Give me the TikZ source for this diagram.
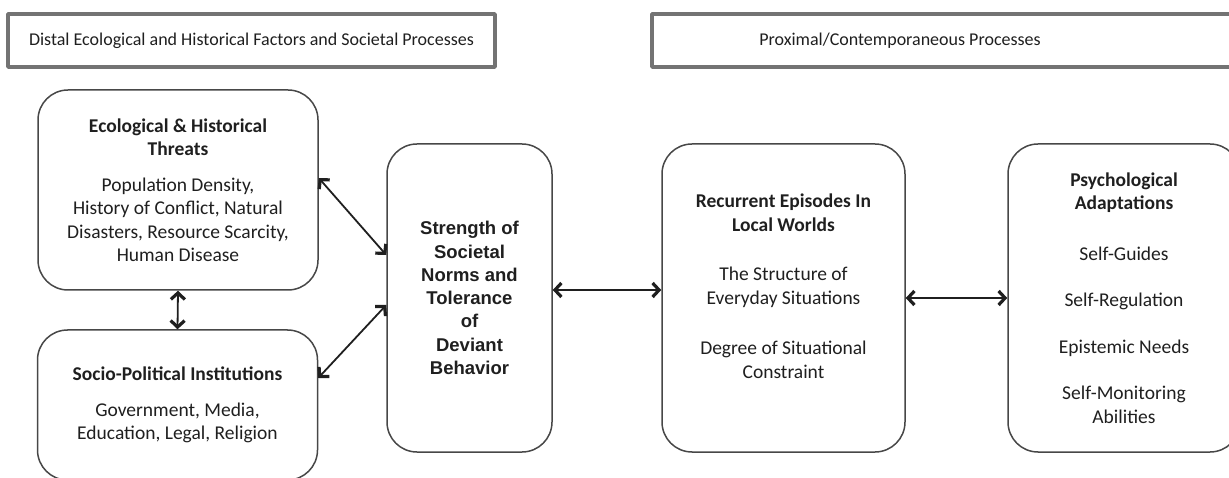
\documentclass[tikz,border=0pt]{standalone}
\usepackage{fontspec}
\setmainfont{Carlito}
\newfontfamily\arialfont{Liberation Sans}
\usetikzlibrary{arrows.meta}

\begin{document}
\begin{tikzpicture}[x=1pt,y=-1pt,line join=round,line cap=round,>={Straight Barb[length=6.5pt,width=14pt,line width=3.2pt]}]
	\tikzset{every node/.style={font=\fontsize{19.5}{23.5}\selectfont,text=black!88},
		header/.style={draw=black!55,line width=3.5pt,minimum height=53pt,inner sep=0pt,font=\fontsize{18}{22}\selectfont},
		roundbox/.style={draw=black!72,line width=1.5pt,rounded corners=30pt,align=center,inner sep=0pt},
		link/.style={<->,line width=1.8pt,draw=black!88}}
	\useasboundingbox (0,0) rectangle (1229,478);
	\node[header,minimum width=487pt] (distal) at (251.5,40.5) {Distal Ecological and Historical Factors and Societal Processes};
	\node[header,minimum width=588pt] (proximal) at (946,40.5) {Proximal/Contemporaneous Processes\hspace*{92pt}};
	\node[roundbox,minimum width=280pt,minimum height=200pt] (eco) at (178,190)
		{\textbf{Ecological \& Historical}\\ \textbf{Threats}\\[12pt]
		Population Density,\\ History of Conflict, Natural\\ Disasters, Resource Scarcity,\\ Human Disease};
	\node[roundbox,minimum width=280pt,minimum height=150pt] (socio) at (177.5,405)
		{\textbf{Socio-Political Institutions}\\[12pt] Government, Media,\\ Education, Legal, Religion};
	\node[roundbox,minimum width=165pt,minimum height=308pt,font=\arialfont\bfseries\fontsize{18.5}{23.3}\selectfont] (norms) at (469.5,298)
		{Strength of\\ Societal\\ Norms and\\ Tolerance\\ of\\ Deviant\\ Behavior};
	\node[roundbox,minimum width=243pt,minimum height=308pt] (episodes) at (783.5,298)
		{\textbf{Recurrent Episodes In}\\ \textbf{Local Worlds}\\[26pt]
		The Structure of\\ Everyday Situations\\[27pt] Degree of Situational\\ Constraint\\ \mbox{}};
	\node[roundbox,minimum width=232pt,minimum height=308pt] (adapt) at (1124,298)
		{\textbf{Psychological}\\ \textbf{Adaptations}\\[27pt] Self-Guides\\[23pt] Self-Regulation\\[23pt]
		Epistemic Needs\\[23pt] Self-Monitoring\\ Abilities};
	\draw[link] (eco.south) -- (socio.north);
	\draw[link] ([yshift=12pt]eco.east) -- ([yshift=43pt]norms.west);
	\draw[link] ([yshift=27pt]socio.east) -- ([yshift=-7pt]norms.west);
	\draw[link] ([yshift=8pt]norms.east) -- ([yshift=8pt]episodes.west);
	\draw[link] (episodes.east) -- (adapt.west);
\end{tikzpicture}
\end{document}
